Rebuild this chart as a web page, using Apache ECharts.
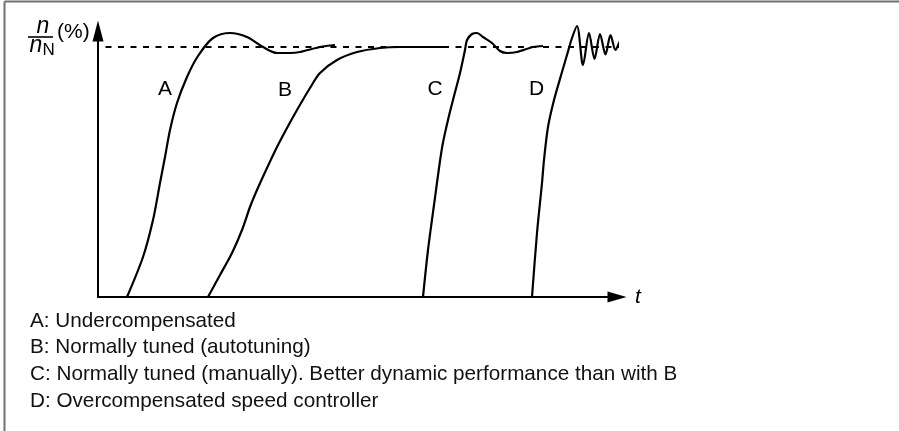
<!DOCTYPE html>
<html>
<head>
<meta charset="utf-8">
<script src="https://cdn.jsdelivr.net/npm/echarts@6/dist/echarts.min.js"></script>
<style>
  html, body { margin: 0; padding: 0; background: #fff; }
  #chart { width: 899px; height: 431px; }
</style>
</head>
<body>
<div id="chart"></div>
<script>
// Step responses of the speed controller: time t vs. speed n/nN (%)
const curveNames = ['A', 'B', 'C', 'D'];

const curveA_t = [29, 45, 55, 62, 67, 72, 79, 89, 100, 115, 132, 149, 165, 179, 192, 202, 222, 237];
const curveA_n = [0, 16, 30.8, 45.6, 56, 66.8, 77.6, 88, 96.4, 103.6, 105.6, 104, 100, 97.6, 97.6, 98, 100, 100.8];

const curveB_t = [110, 122, 134, 144, 152, 159, 169, 179, 189, 199, 212, 222, 239, 259, 282, 302, 345];
const curveB_n = [0, 8.8, 17.6, 26.8, 36, 42.8, 51.6, 60, 67.6, 74.8, 83.6, 89.6, 94.8, 98, 99.6, 100, 100];

const curveC_t = [325, 330, 336, 344, 350, 355, 362, 367, 369, 374, 379, 385, 394, 402, 409, 419, 435, 445];
const curveC_n = [0, 18.8, 36.8, 59.6, 70.8, 78.8, 89.6, 98.8, 102.8, 105.2, 105.6, 104, 101.6, 98.4, 97.6, 98, 100, 100.4];

const curveD_t = [434, 439, 444, 446, 450, 456, 464, 469, 474, 479, 485, 491, 496.5, 502, 507.5, 512.5, 517.5, 523.5, 528];
const curveD_n = [0, 25.6, 45.6, 54.8, 68, 78.8, 90, 96.8, 103.6, 108.4, 92.8, 105.6, 95.2, 105.2, 97, 104.8, 98.8, 103.2, 100.8];

// nominal speed reference (100 %), drawn across the whole plot
const nominalLevel = 100;
const nominalSpan = [-5, 540];

// where each curve's letter sits (t, n)
const labelT = [67, 187, 337, 438.5];
const labelN = [83, 82.8, 83, 83];

const legendLines = [
  'A: Undercompensated',
  'B: Normally tuned (autotuning)',
  'C: Normally tuned (manually). Better dynamic performance than with B',
  'D: Overcompensated speed controller'
];

const FONT = "'Liberation Sans', Arial, Helvetica, sans-serif";
const INK = '#000';

const curves = [
  [curveA_t, curveA_n],
  [curveB_t, curveB_n],
  [curveC_t, curveC_n],
  [curveD_t, curveD_n]
];

const zip = (xs, ys) => xs.map((x, i) => [x, ys[i]]);

const curveSeries = curves.map(([ts, ns], i) => ({
  name: curveNames[i],
  type: 'line',
  data: zip(ts, ns),
  smooth: 0.3,
  showSymbol: false,
  clip: false,
  lineStyle: { color: INK, width: 2.2 },
  silent: true,
  markPoint: {
    symbol: 'circle',
    symbolSize: 1,
    itemStyle: { color: 'rgba(0,0,0,0)' },
    label: {
      show: true,
      position: 'inside',
      formatter: curveNames[i],
      color: INK,
      fontFamily: FONT,
      fontSize: 21
    },
    data: [{ coord: [labelT[i], labelN[i]] }]
  }
}));

const chart = echarts.init(document.getElementById('chart'), null, { renderer: 'canvas' });

chart.setOption({
  backgroundColor: '#fff',
  animation: false,
  title: {
    text: legendLines.join('\n'),
    left: 30,
    top: 307.5,
    padding: 0,
    textStyle: {
      fontFamily: FONT,
      fontSize: 20.7,
      fontWeight: 'normal',
      color: '#111',
      lineHeight: 26.67
    }
  },
  grid: {
    left: 98,
    top: 31,
    width: 519,
    height: 266,
    containLabel: false,
    outerBoundsMode: 'none'
  },
  xAxis: {
    type: 'value',
    min: 0,
    max: 519,
    name: 't',
    nameLocation: 'end',
    nameGap: 18,
    nameTextStyle: {
      fontFamily: FONT,
      fontSize: 21,
      fontStyle: 'italic',
      color: INK,
      verticalAlign: 'middle'
    },
    axisLine: {
      show: true,
      onZero: false,
      symbol: ['none', 'triangle'],
      symbolSize: [11, 19],
      lineStyle: { color: INK, width: 2 }
    },
    axisTick: { show: false },
    axisLabel: { show: false },
    splitLine: { show: false }
  },
  yAxis: {
    type: 'value',
    min: 0,
    max: 106.4,
    axisLine: {
      show: true,
      onZero: false,
      symbol: ['none', 'triangle'],
      symbolSize: [11, 21],
      lineStyle: { color: INK, width: 2 }
    },
    axisTick: { show: false },
    axisLabel: { show: false },
    splitLine: { show: false }
  },
  graphic: [
    // page frame (top and left edges)
    { type: 'line', shape: { x1: 4.5, y1: 1.5, x2: 899, y2: 1.5 }, style: { stroke: '#707070', lineWidth: 2 }, silent: true },
    { type: 'line', shape: { x1: 4.5, y1: 1.5, x2: 4.5, y2: 431 }, style: { stroke: '#707070', lineWidth: 2 }, silent: true },
    // y-axis quantity: n / nN (%)
    { type: 'text', x: 43, y: 26.5, style: { text: 'n', font: 'italic 23px ' + FONT, fill: INK, align: 'center', verticalAlign: 'middle' }, silent: true },
    { type: 'line', shape: { x1: 28, y1: 37, x2: 53, y2: 37 }, style: { stroke: INK, lineWidth: 1.6 }, silent: true },
    { type: 'text', x: 36, y: 45.5, style: { text: 'n', font: 'italic 23px ' + FONT, fill: INK, align: 'center', verticalAlign: 'middle' }, silent: true },
    { type: 'text', x: 42.5, y: 50, style: { text: 'N', font: '17px ' + FONT, fill: INK, align: 'left', verticalAlign: 'middle' }, silent: true },
    { type: 'text', x: 57, y: 32, style: { text: '(%)', font: '21px ' + FONT, fill: INK, align: 'left', verticalAlign: 'middle' }, silent: true }
  ],
  series: [
    {
      name: 'nN',
      type: 'line',
      data: nominalSpan.map(t => [t, nominalLevel]),
      showSymbol: false,
      clip: false,
      silent: true,
      lineStyle: { color: INK, width: 1.8, type: [6, 6.5] }
    },
    ...curveSeries
  ]
});
</script>
</body>
</html>
